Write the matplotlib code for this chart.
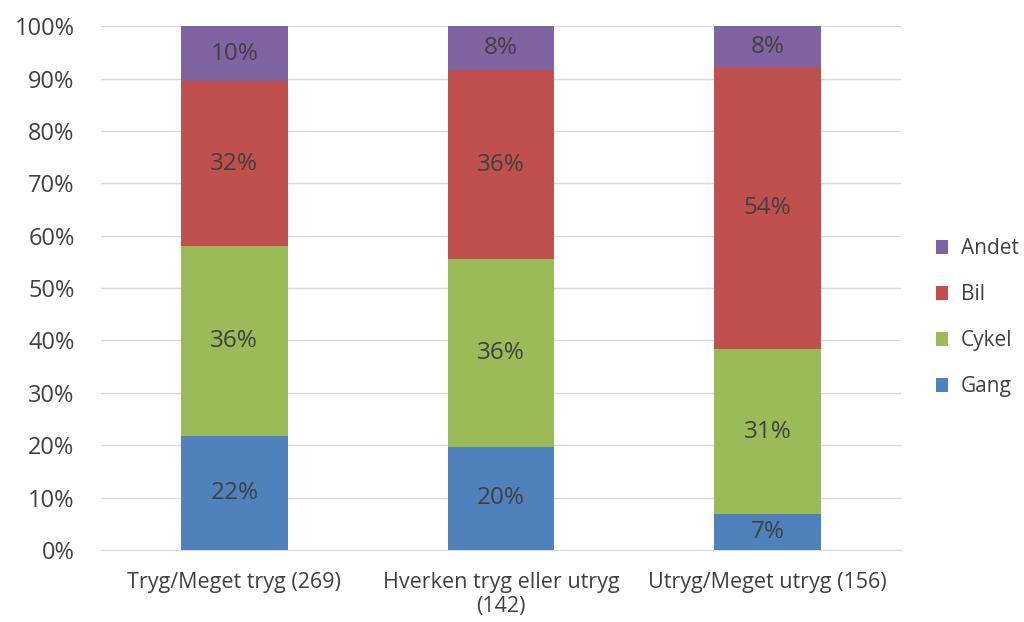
import matplotlib.pyplot as plt
import numpy as np

plt.rcParams['font.family'] = ['Open Sans', 'DejaVu Sans']

categories = ['Tryg/Meget tryg (269)', 'Hverken tryg eller utryg\n(142)', 'Utryg/Meget utryg (156)']
series = ['Gang', 'Cykel', 'Bil', 'Andet']
gang = [21.8, 19.7, 6.9]
cykel = [36.2, 35.8, 31.4]
bil = [31.5, 36.1, 53.9]
andet = [10.5, 8.4, 7.8]
colors = ['#4F81BD', '#9BBB59', '#C0504D', '#8064A2']

values = [gang, cykel, bil, andet]
text_col = '#404040'

fig = plt.figure(figsize=(10.24, 6.22), dpi=100)
ax = fig.add_axes([0.0986, 0.1158, 0.7814, 0.8422])

x = np.arange(len(categories))
bottom = np.zeros(len(categories))
handles = []
for name, vals, col in zip(series, values, colors):
    vals = np.array(vals)
    b = ax.bar(x, vals, 0.4, bottom=bottom, color=col, label=name, zorder=3)
    handles.append(b)
    for xi, v, bt in zip(x, vals, bottom):
        ax.text(xi, bt + v / 2, f'{round(v):.0f}%', ha='center', va='center',
                fontsize=17.5, color=text_col, zorder=4)
    bottom += vals

ax.set_xlim(-0.5, 2.5)
ax.set_ylim(0, 100)
ax.set_yticks(np.arange(0, 101, 10))
ax.set_yticklabels([f'{t}%' for t in range(0, 101, 10)])
ax.set_xticks(x)
ax.set_xticklabels(categories, linespacing=1.2)
ax.tick_params(length=0, labelsize=17, colors=text_col)
ax.tick_params(axis='x', labelsize=15.5)
ax.tick_params(axis='y', pad=19)
ax.tick_params(axis='x', pad=16)
ax.grid(axis='y', color='#D9D9D9', linewidth=1, zorder=0)
for s in ['top', 'right', 'left']:
    ax.spines[s].set_visible(False)
ax.spines['bottom'].set_color('#D9D9D9')

ax.legend(handles[::-1], series[::-1], loc='center left', bbox_to_anchor=(1.02, 0.443),
          frameon=False, fontsize=15, labelcolor=text_col, handlelength=0.6,
          handleheight=0.6, labelspacing=1.2, handletextpad=0.6)

fig.savefig('out.png', dpi=100)
